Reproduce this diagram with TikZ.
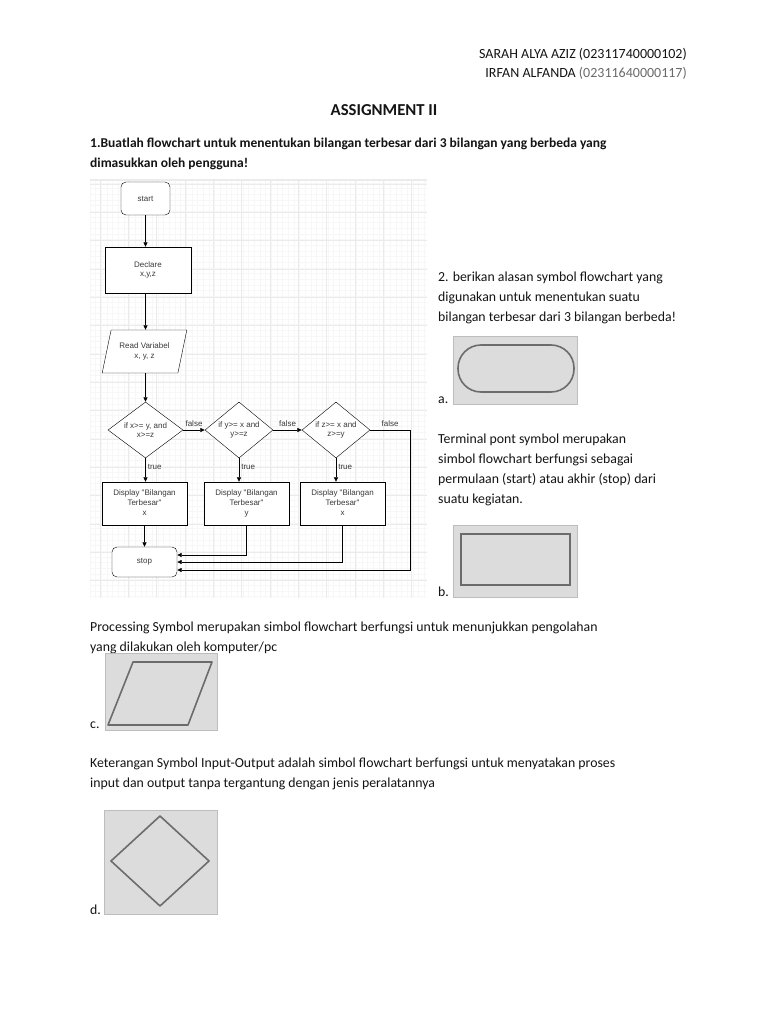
\documentclass[tikz,border=0pt]{standalone}
\usepackage{fontspec}
\setmainfont{Carlito}
\newfontfamily\chartfont{Liberation Sans}
\usetikzlibrary{arrows.meta,positioning,calc,shapes.geometric}
\definecolor{cInk}{HTML}{141414}
\definecolor{cNum}{HTML}{6a6a6a}
\definecolor{cGrid}{HTML}{ebebeb}
\definecolor{cGridF}{HTML}{f7f7f7}
\definecolor{cPic}{HTML}{dcdcdc}
\definecolor{cPicB}{HTML}{bdbdbd}
\definecolor{cSym}{HTML}{6c6c6c}
\definecolor{cChart}{HTML}{3a3a3a}
\tikzset{
  txt/.style={inner sep=0pt,anchor=north west,align=left,text=cInk,
              font=\fontsize{13.8}{20}\selectfont},
  chart/.style={draw=black,fill=white,align=center,text=cChart,inner sep=1pt,
              font=\chartfont\fontsize{8}{9.6}\selectfont},
  term/.style={chart,rounded corners=5pt},
  proc/.style={chart,rectangle,minimum width=85pt,minimum height=43pt},
  inout/.style={chart,trapezium,trapezium left angle=70,trapezium right angle=110,
              trapezium stretches=true,minimum width=85pt,minimum height=43pt},
  choice/.style={chart,diamond,aspect=1.3,inner sep=0pt,
              minimum width=72pt,minimum height=56pt},
  flow/.style={-{Triangle[length=4.5pt,width=4pt]},black,line width=.7pt},
  lbl/.style={inner sep=2pt,text=cChart,font=\chartfont\fontsize{8}{9}\selectfont},
  picbox/.style={fill=cPic,draw=cPicB,line width=.8pt},
  symline/.style={draw=cSym,line width=1.6pt},
}
\begin{document}
\begin{tikzpicture}[x=1pt,y=-1pt]
  \useasboundingbox[fill=white] (0,0) rectangle (768,1024);

  % header
  \node[inner sep=0pt,anchor=north east,align=right,text=cInk,
        font=\fontsize{14}{19}\selectfont] (hdr) at (687,48)
        {SARAH ALYA AZIZ (02311740000102)\\
         IRFAN ALFANDA {\color{cNum}(02311640000117)}};
  \node[inner sep=0pt,text=cInk,font=\bfseries\fontsize{16.7}{18}\selectfont]
        (title) at (384,110) {ASSIGNMENT II};
  \node[txt,font=\bfseries\fontsize{13.5}{19.5}\selectfont] (qone) at (90,138)
        {1.Buatlah flowchart untuk menentukan bilangan terbesar dari 3 bilangan yang berbeda yang\\
         dimasukkan oleh pengguna!};

  % grid behind the flowchart
  \fill[white] (90,180) rectangle (427,598);
  \foreach \i in {0,...,59}
    \draw[cGridF,line width=.4pt] ({90+5.667*\i},180) -- ++(0,418);
  \foreach \i in {0,...,73}
    \draw[cGridF,line width=.4pt] (90,{183+5.667*\i}) -- ++(337,0);
  \foreach \i in {0,...,11}
    \draw[cGrid,line width=.6pt] ({100+28.33*\i},180) -- ++(0,418);
  \foreach \i in {0,...,14}
    \draw[cGrid,line width=.6pt] (90,{184+28.33*\i}) -- ++(337,0);
  \draw[cGrid,line width=1.5pt] (90,180) -- (427,180);

  % flowchart
  \node[term,minimum width=49pt,minimum height=33pt] (start) at (145.5,198.5) {start};
  \node[proc,minimum width=86pt,minimum height=46pt] (decl) at (148,270) {Declare\\x,y,z};
  \node[inout] (readv) at (144.5,351.5) {Read Variabel\\x, y, z};
  \node[choice,minimum width=75pt] (ifx) at (145.5,430) {if x>= y, and\\x>=z};
  \node[choice,minimum width=68pt] (ify) at (239,430) {if y>= x and\\y>=z};
  \node[choice,minimum width=68pt] (ifz) at (336,430) {if z>= x and\\z>=y};
  \node[proc] (dispx) at (144.5,503.5) {Display "Bilangan\\Terbesar"\\x\vphantom{y}};
  \node[proc] (dispy) at (246.5,503.5) {Display "Bilangan\\Terbesar"\\y};
  \node[proc] (dispz) at (342.5,503.5) {Display "Bilangan\\Terbesar"\\x\vphantom{y}};
  \node[term,minimum width=65pt,minimum height=30pt] (stop) at (144.5,562) {stop};
  \coordinate (fz) at (410,430);

  \draw[flow] (start.south) -- (start.south |- decl.north);
  \draw[flow] (decl.south -| start) -- (start |- readv.north);
  \draw[flow] (readv.south -| ifx.north) -- (ifx);
  \draw[flow] (ifx) -- node[lbl,above,yshift=1pt]{false} (ify);
  \draw[flow] (ify) -- node[lbl,above,yshift=1pt]{false} (ifz);
  \draw[flow] (ifx.south) -- node[lbl,right,pos=.35]{true} (ifx.south |- dispx.north);
  \draw[flow] (ify.south) -- node[lbl,right,pos=.35]{true} (ify.south |- dispy.north);
  \draw[flow] (ifz.south) -- node[lbl,right,pos=.35]{true} (ifz.south |- dispz.north);
  \draw[flow] (dispx.south -| stop) -- (stop);
  \draw[flow] (dispy.south) |- ($(stop.east)+(0,-7)$);
  \draw[flow] (dispz.south) |- (stop.east);
  \draw[flow] (ifz.east) -- node[lbl,above,yshift=1pt]{false} (fz) |- ($(stop.east)+(0,8)$);

  % question 2
  \node[txt] (qtwo) at (438,272)
        {2. berikan alasan symbol flowchart yang\\
         digunakan untuk menentukan suatu\\
         bilangan terbesar dari 3 bilangan berbeda!};
  \node[txt] (la) at (438,397) {a.};
  \draw[picbox] (453,336) rectangle (577,404);
  \draw[symline,rounded corners=23pt] (458,345) rectangle (574,392);

  \node[txt] (terminal) at (438,434)
        {Terminal pont symbol merupakan\\
         simbol flowchart berfungsi sebagai\\
         permulaan (start) atau akhir (stop) dari\\
         suatu kegiatan.};
  \node[txt] (lb) at (438,587) {b.};
  \draw[picbox] (453,525) rectangle (577,597);
  \draw[symline] (461,534) rectangle (570,585);

  \node[txt] (process) at (90,622)
        {Processing Symbol merupakan simbol flowchart berfungsi untuk menunjukkan pengolahan\\
         yang dilakukan oleh komputer/pc};
  \node[txt] (lc) at (90,722) {c.};
  \draw[picbox] (105,653) rectangle (217,730);
  \draw[symline,line join=round] (133,662) -- (212,662) -- (188,725) -- (108,725) -- cycle;

  \node[txt] (ket) at (90,758)
        {Keterangan Symbol Input-Output adalah simbol flowchart berfungsi untuk menyatakan proses\\
         input dan output tanpa tergantung dengan jenis peralatannya};
  \node[txt] (ld) at (90,905) {d.};
  \draw[picbox] (104,810) rectangle (217,914);
  \draw[symline,line join=round] (160,816) -- (209,861) -- (160,906) -- (111,861) -- cycle;
\end{tikzpicture}
\end{document}
